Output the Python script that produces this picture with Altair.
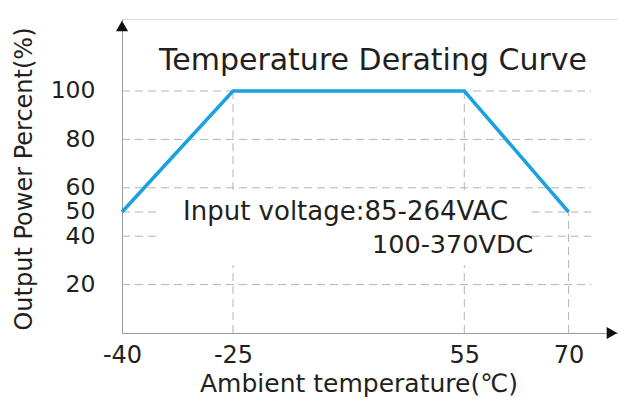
import altair as alt
import pandas as pd

# ---- data ----
temps = [-40, -25, 55, 70]
power = [50, 100, 100, 50]
x_ticks = [-40, -25, 55, 70]
y_ticks = [20, 40, 50, 60, 80, 100]

# dashed guide segments (data units)
hgrid_y = [100, 80, 60, 20, 50, 50, 40, 40]
hgrid_x1 = [-40, -40, -40, -40, -40, 64.7, -40, 64.7]
hgrid_x2 = [74, 74, 74, 74, -35.3, 74, -35.3, 74]
vgrid_x = [-25, -25, 55, 55, 70]
vgrid_y1 = [59, 0, 59, 0, 0]
vgrid_y2 = [100, 28, 100, 28, 50]

title_text = "Temperature Derating Curve"
note1 = "Input voltage:85-264VAC"
note2 = "100-370VDC"
x_title = "Ambient temperature(℃)"
y_title = "Output Power Percent(%)"

FONT = "DejaVu Sans"
TXT = "#231f20"
GRID = "#b3b3b3"
BLUE = "#1aa1e1"

W, H = 496, 314
xscale = alt.Scale(domain=[-40, -25, 55, 70, 78.76], range=[0, 111, 342.3, 446.6, 496], zero=False, nice=False)
yscale = alt.Scale(domain=[0, 129.75], zero=False, nice=False)

curve = pd.DataFrame({"t": temps, "p": power})
hg = pd.DataFrame({"y": hgrid_y, "x1": hgrid_x1, "x2": hgrid_x2})
vg = pd.DataFrame({"x": vgrid_x, "y1": vgrid_y1, "y2": vgrid_y2})

xaxis = alt.Axis(values=x_ticks, title=None, grid=False, ticks=False, tickSize=0,
                 domainColor="#9a9a9a", domainWidth=1, labelFontSize=24, labelFont=FONT,
                 labelColor=TXT, labelPadding=10, labelFlush=False, labelOverlap=False,
                 labelExpr="'' + datum.value")
yaxis = alt.Axis(values=y_ticks, title=None, grid=False, ticks=False, tickSize=0,
                 domainColor="#9a9a9a", domainWidth=1, labelFontSize=23.5, labelFont=FONT,
                 labelColor=TXT, labelPadding=27, labelOverlap=False, labelBound=False)

hrules = alt.Chart(hg).mark_rule(color=GRID, strokeDash=[8, 5], strokeWidth=1).encode(
    x=alt.X("x1:Q", scale=xscale, axis=xaxis),
    x2="x2:Q",
    y=alt.Y("y:Q", scale=yscale, axis=yaxis),
)
vrules = alt.Chart(vg).mark_rule(color=GRID, strokeDash=[8, 5], strokeWidth=1).encode(
    x=alt.X("x:Q", scale=xscale),
    y=alt.Y("y1:Q", scale=yscale),
    y2="y2:Q",
)
line = alt.Chart(curve).mark_line(color=BLUE, strokeWidth=3.5).encode(
    x=alt.X("t:Q", scale=xscale),
    y=alt.Y("p:Q", scale=yscale),
)

arrow_up = alt.Chart(pd.DataFrame({"a": [0]})).mark_point(
    shape="triangle-up", filled=True, color="#111111", size=150, opacity=1
).encode(x=alt.value(0), y=alt.value(7))
arrow_right = alt.Chart(pd.DataFrame({"a": [0]})).mark_point(
    shape="triangle-right", filled=True, color="#111111", size=150, opacity=1
).encode(x=alt.value(W - 6), y=alt.value(H))

def label(text, x, y, size, align="left", angle=0, baseline="alphabetic"):
    return alt.Chart(pd.DataFrame({"s": [text]})).mark_text(
        font=FONT, fontSize=size, color=TXT, align=align, baseline=baseline, angle=angle
    ).encode(text="s:N", x=alt.value(x), y=alt.value(y))

texts = [
    label(title_text, 251, 51, 30, align="center"),
    label(note1, 61, 201, 26),
    label(note2, 250, 234, 25.5),
    label(x_title, 237, 373, 25, align="center"),
    label(y_title, -97, 160, 24, align="center", angle=270, baseline="middle"),
]

chart = alt.layer(hrules, vrules, line, arrow_up, arrow_right, *texts).properties(
    width=W, height=H,
    autosize=alt.AutoSizeParams(type="none"),
    padding={"left": 114, "top": 11, "right": 0, "bottom": 66},
).configure_view(stroke=None).configure(background="white")

chart.save("out.html", embed_options={"renderer": "svg", "actions": False})
